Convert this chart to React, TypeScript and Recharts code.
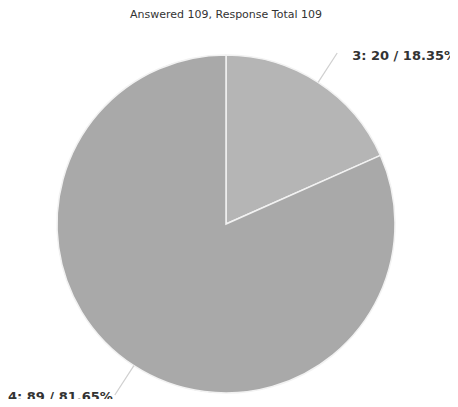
import React from 'react';
import { PieChart, Pie, Cell } from 'recharts';

const TITLE = 'Answered 109, Response Total 109';
const names = ['3', '4'];
const counts = [20, 89];
const percents = ['18.35%', '81.65%'];
const COLORS = ['#b5b5b5', '#a9a9a9'];

const data = names.map((name, i) => ({
  name,
  value: counts[i],
  pct: percents[i],
}));

const RADIAN = Math.PI / 180;

function renderLabel(props: any) {
  const { cx, cy, midAngle, outerRadius, index } = props;
  const cos = Math.cos(-midAngle * RADIAN);
  const sin = Math.sin(-midAngle * RADIAN);
  const sx = cx + outerRadius * cos;
  const sy = cy + outerRadius * sin;
  const ex = cx + (outerRadius + 35) * cos;
  const ey = cy + (outerRadius + 35) * sin;
  const right = cos >= 0;
  const tx = ex + (right ? 15 : -2);
  const d = data[index];
  return (
    <g key={`lbl-${index}`}>
      <path d={`M${sx},${sy}L${ex},${ey}`} stroke="#cfcfcf" strokeWidth={1.2} fill="none" />
      <text
        x={tx}
        y={ey + (right ? 7 : 6)}
        textAnchor={right ? 'start' : 'end'}
        fill="#333"
        fontFamily="'DejaVu Sans', Verdana, sans-serif"
        fontWeight="bold"
        fontSize={13}
      >
        {`${d.name}: ${d.value} / ${d.pct}`}
      </text>
    </g>
  );
}

export default function App() {
  return (
    <div style={{ position: 'relative', width: 458, height: 407, margin: '-8px', background: '#fff' }}>
      <div
        style={{
          position: 'absolute',
          top: 8,
          left: 0,
          width: 452,
          textAlign: 'center',
          fontFamily: "'DejaVu Sans', Tahoma, sans-serif",
          fontSize: 11,
          color: '#333',
        }}
      >
        {TITLE}
      </div>
      <PieChart width={458} height={407}>
        <Pie
          data={data}
          dataKey="value"
          nameKey="name"
          cx={221}
          cy={219}
          outerRadius={169}
          startAngle={90}
          endAngle={-270}
          stroke="#f2f2f2"
          strokeWidth={1.5}
          label={renderLabel}
          labelLine={false}
          isAnimationActive={false}
        >
          {data.map((_, index) => (
            <Cell key={`cell-${index}`} fill={COLORS[index % COLORS.length]} />
          ))}
        </Pie>
      </PieChart>
    </div>
  );
}
